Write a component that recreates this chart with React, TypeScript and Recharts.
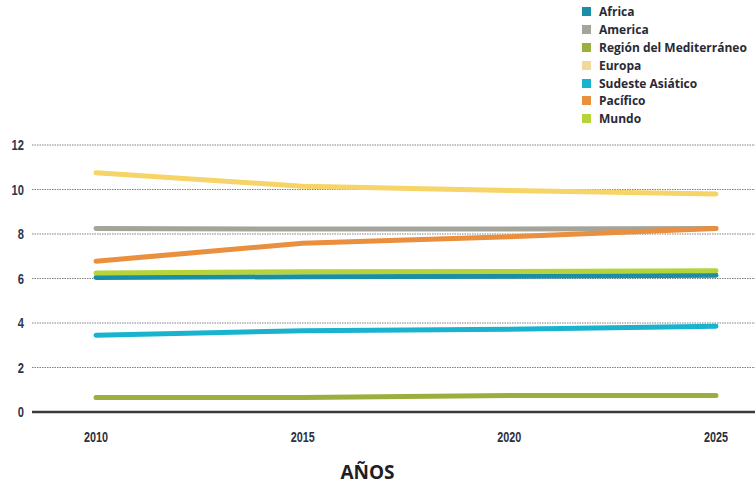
import React from 'react';
import { LineChart, Line, XAxis, YAxis, CartesianGrid } from 'recharts';

const years = [2010, 2015, 2020, 2025];
const africa = [6.05, 6.08, 6.1, 6.15];
const america = [8.25, 8.22, 8.22, 8.25];
const mediterraneo = [0.65, 0.65, 0.74, 0.74];
const europa = [10.75, 10.15, 9.95, 9.8];
const sudeste = [3.45, 3.65, 3.72, 3.85];
const pacifico = [6.78, 7.58, 7.88, 8.25];
const mundo = [6.25, 6.3, 6.32, 6.35];
const yTicks = [0, 2, 4, 6, 8, 10, 12];

const series = [
  { key: 'africa', name: 'Africa', color: '#1a8ea6', values: africa },
  { key: 'america', name: 'America', color: '#a4a49b', values: america },
  { key: 'mediterraneo', name: 'Región del Mediterráneo', color: '#9cae3e', values: mediterraneo },
  { key: 'europa', name: 'Europa', color: '#f6d468', swatch: '#f1d89c', values: europa },
  { key: 'sudeste', name: 'Sudeste Asiático', color: '#19b3cf', values: sudeste },
  { key: 'pacifico', name: 'Pacífico', color: '#e98f3d', values: pacifico },
  { key: 'mundo', name: 'Mundo', color: '#b5d33b', values: mundo },
];

const data = years.map((year, i) => {
  const row: Record<string, number> = { year };
  series.forEach((s) => {
    row[s.key] = s.values[i];
  });
  return row;
});

const tickFont = "'Liberation Sans', Arial, sans-serif";
const legendFont = "'Open Sans', 'Liberation Sans', sans-serif";

// Condensed bold tick text (narrowed horizontally around its anchor point)
const NarrowTick = (props: any) => {
  const { x, y, payload, textAnchor, fontSize, fill, dy } = props;
  return (
    <g transform={`translate(${x},${y}) scale(0.72,1)`}>
      <text
        x={0}
        y={0}
        dy={dy}
        textAnchor={textAnchor}
        dominantBaseline="central"
        fontFamily={tickFont}
        fontWeight={700}
        fontSize={fontSize}
        fill={fill}
      >
        {payload.value}
      </text>
    </g>
  );
};

const LegendBox = () => (
  <div
    style={{
      position: 'absolute',
      left: 582,
      top: 3,
      fontFamily: legendFont,
      fontWeight: 700,
      fontSize: 12,
      color: '#2a2a35',
    }}
  >
    {series.map((s) => (
      <div key={s.key} style={{ display: 'flex', alignItems: 'center', height: 17.8 }}>
        <span
          style={{
            display: 'inline-block',
            width: 9,
            height: 9,
            background: s.swatch || s.color,
            marginRight: 8,
          }}
        />
        <span>{s.name}</span>
      </div>
    ))}
  </div>
);

const AxisTitle = (props: any) => {
  const vb = props.viewBox || {};
  return (
    <text
      x={vb.x + vb.width / 2 - 26}
      y={vb.y + 67}
      textAnchor="middle"
      fontFamily={legendFont}
      fontWeight={700}
      fontSize={19}
      fill="#1e1e24"
    >
      AÑOS
    </text>
  );
};

export default function App() {
  return (
    <div style={{ position: 'absolute', left: 0, top: 0, width: 755, height: 485, background: '#fff' }}>
      <LineChart width={755} height={485} data={data} margin={{ top: 145, right: 0, bottom: 0, left: 0 }}>
        <CartesianGrid vertical={false} stroke="#808080" strokeDasharray="1.5 1" strokeWidth={1} />
        <XAxis
          dataKey="year"
          padding={{ left: 64, right: 39 }}
          axisLine={{ stroke: '#3a3a3a', strokeWidth: 2.5 }}
          tickLine={false}
          tickSize={0}
          tickMargin={25}
          height={73}
          tick={<NarrowTick fontSize={15} fill="#2b3040" />}
          label={<AxisTitle />}
        />
        <YAxis
          width={32}
          domain={[0, 12]}
          ticks={yTicks}
          axisLine={false}
          tickLine={false}
          tickSize={0}
          tickMargin={8}
          tick={<NarrowTick fontSize={15.5} fill="#2b3550" />}
        />
        {series.map((s) => (
          <Line
            key={s.key}
            dataKey={s.key}
            name={s.name}
            stroke={s.color}
            strokeWidth={5}
            strokeLinecap="round"
            strokeLinejoin="round"
            dot={false}
            activeDot={false}
            isAnimationActive={false}
          />
        ))}
      </LineChart>
      <LegendBox />
    </div>
  );
}
